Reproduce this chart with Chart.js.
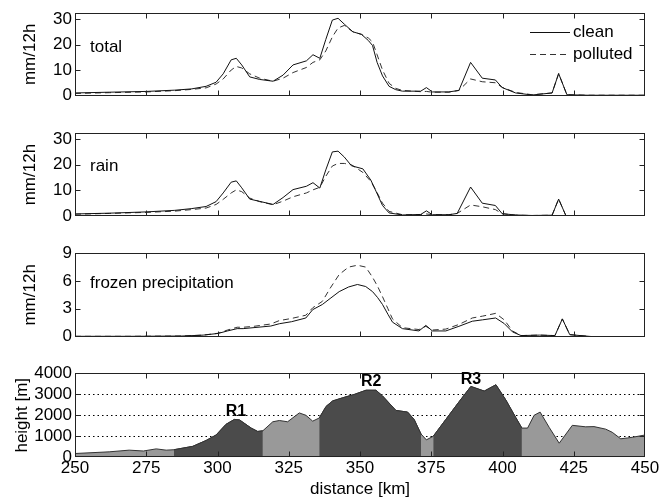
<!DOCTYPE html>
<html>
<head>
<meta charset="utf-8">
<script src="https://cdn.jsdelivr.net/npm/chart.js@4.4.1/dist/chart.umd.min.js"></script>
<style>
  body { margin: 0; background: #fff; }
  #wrap { position: relative; width: 662px; height: 500px; }
  canvas { position: absolute; left: 0; }
</style>
</head>
<body>
<div id="wrap">
  <canvas id="pTotal" width="662" height="120" style="top:0px"></canvas>
  <canvas id="pRain" width="662" height="120" style="top:120px"></canvas>
  <canvas id="pFrozen" width="662" height="120" style="top:240px"></canvas>
  <canvas id="pHeight" width="662" height="140" style="top:360px"></canvas>
</div>
<script>
// distance axis ticks
const xTicks = [250, 275, 300, 325, 350, 375, 400, 425, 450];

// total precipitation (mm/12h)
const kmTotal = [250, 262, 275, 285, 291, 296, 299.5, 302, 304.8, 306.6, 308.5, 311.3, 314.8, 319.5, 323, 326.5, 331.2, 333.5, 335.9, 338, 340.3, 342.3, 344.5, 347.5, 350.5, 353, 354.4, 356, 357.9, 360.2, 362.5, 364.9, 371.3, 373.3, 375.4, 381.2, 384.7, 388.8, 392.9, 397.5, 399.9, 404.6, 410.4, 417.4, 419.7, 422.6, 430, 450];
const totalClean = [1.0, 1.3, 1.6, 2.1, 2.6, 3.6, 5.2, 8.5, 14.0, 14.6, 12.0, 7.3, 6.3, 5.6, 8.0, 12.0, 13.6, 16.0, 14.6, 22.0, 29.6, 30.3, 28.0, 25.0, 24.0, 21.5, 19.6, 13.0, 7.7, 3.6, 2.3, 1.7, 1.7, 3.1, 1.4, 1.4, 2.0, 13.0, 6.8, 6.1, 3.1, 1.0, 0.2, 1.0, 8.6, 0.3, 0.1, 0.1];
const totalPolluted = [0.8, 1.1, 1.4, 1.9, 2.4, 3.0, 4.5, 6.5, 10.0, 11.4, 10.8, 8.5, 6.8, 5.6, 6.8, 9.0, 11.0, 13.0, 14.0, 17.5, 23.0, 26.5, 27.5, 25.0, 24.0, 22.5, 21.0, 16.0, 10.0, 4.8, 2.8, 2.0, 1.5, 1.6, 1.3, 1.3, 2.0, 6.5, 5.4, 5.0, 3.2, 1.2, 0.3, 1.0, 8.6, 0.3, 0.1, 0.1];

// rain (mm/12h)
const kmRain = [250, 262, 275, 285, 291, 296, 299.5, 302, 304.8, 306.6, 308.5, 311.3, 314.8, 319.5, 323, 326.5, 331.2, 333.5, 335.9, 338, 340.3, 342.3, 344.5, 347, 351, 353.8, 355.6, 357.9, 360.2, 364.9, 371.3, 373.3, 375.4, 381.2, 384.1, 388.8, 392.9, 397.5, 399.9, 404.6, 410.4, 417.4, 419.7, 422.3];
const rainClean = [0.8, 1.1, 1.6, 2.2, 2.9, 3.7, 5.6, 9.0, 13.2, 13.7, 11.0, 6.6, 5.7, 4.5, 7.2, 10.3, 11.6, 13.0, 10.9, 18.0, 25.0, 25.3, 23.0, 19.6, 18.4, 14.0, 9.7, 4.1, 1.2, 0.4, 0.6, 2.0, 0.5, 0.5, 1.0, 11.3, 5.0, 4.1, 0.9, 0.4, 0.2, 0.3, 6.6, 0.0];
const rainPolluted = [0.7, 1.0, 1.4, 1.9, 2.5, 3.1, 4.5, 6.5, 9.0, 10.2, 9.5, 7.0, 5.6, 4.4, 5.8, 7.5, 9.0, 10.2, 11.2, 15.5, 19.5, 20.5, 20.5, 20.0, 17.0, 13.5, 10.0, 5.0, 1.8, 0.5, 0.5, 0.8, 0.5, 0.5, 1.0, 4.3, 3.6, 2.5, 0.9, 0.3, 0.2, 0.3, 6.6, 0.0];

// frozen precipitation (mm/12h)
const kmFrozen = [250, 270, 287.5, 295, 300.2, 303.5, 306.9, 309, 312.8, 318.7, 321.7, 326, 331, 333.4, 336.8, 339.5, 342.7, 346, 349.1, 352, 354.4, 356.2, 357.9, 359.8, 361.4, 364.9, 370.7, 373.1, 375.4, 380.1, 384.7, 389.4, 393, 397.6, 400.6, 403.5, 406.5, 413, 418.4, 421, 423.6, 431];
const frozenClean = [0.02, 0.02, 0.05, 0.15, 0.33, 0.6, 0.85, 0.85, 0.96, 1.13, 1.38, 1.6, 2.0, 2.9, 3.46, 4.1, 4.85, 5.35, 5.62, 5.4, 4.85, 4.2, 3.46, 2.4, 1.55, 0.85, 0.6, 1.2, 0.6, 0.6, 1.1, 1.65, 1.8, 2.0, 1.4, 0.5, 0.1, 0.15, 0.1, 1.9, 0.2, 0.0];
const frozenPolluted = [0.02, 0.02, 0.05, 0.15, 0.35, 0.7, 1.0, 1.0, 1.1, 1.35, 1.72, 1.95, 2.3, 3.1, 3.8, 5.2, 6.7, 7.5, 7.7, 7.5, 6.4, 5.4, 4.3, 3.0, 1.9, 0.95, 0.75, 1.1, 0.7, 0.8, 1.3, 2.0, 2.2, 2.5, 1.8, 0.6, 0.1, 0.15, 0.1, 1.9, 0.2, 0.0];

// terrain height (m)
const kmHeight = [250, 262, 269, 274, 278.5, 282, 284.7, 291.3, 296, 299.5, 303, 305.9, 307.7, 311.8, 314.1, 315.9, 319.4, 321.7, 324.6, 328.7, 331, 333.4, 335.7, 338.1, 340.4, 343.9, 348, 352.1, 355.6, 357.9, 362.6, 366.7, 369, 371.4, 373.3, 375.7, 380.1, 384.8, 388.9, 393.6, 397.7, 401.2, 404.7, 406.8, 408.8, 411.1, 413.2, 416.4, 419.9, 424.5, 429.2, 432.1, 436.2, 438.5, 441.5, 443.8, 445.5, 450];
const height = [180, 260, 340, 300, 400, 340, 360, 520, 800, 1060, 1570, 1800, 1780, 1390, 1230, 1260, 1690, 1750, 1690, 2110, 2000, 1720, 1870, 2420, 2680, 2830, 2990, 3190, 3190, 2920, 2230, 2150, 1800, 1110, 830, 1000, 1800, 2650, 3370, 3150, 3450, 2720, 1880, 1390, 1390, 2000, 2150, 1420, 670, 1520, 1450, 1460, 1340, 1190, 880, 920, 950, 1060];

// ridges
const ridgeNames = ["R1", "R2", "R3"];
const ridgeStart = [284.7, 335.7, 375.7];
const ridgeEnd = [315.9, 371.4, 406.8];
const ridgeLabelKm = [306.5, 353.9, 388.9];
const ridgeLabelH = [2180, 3620, 3700];

const FONT = "'Liberation Sans', Arial, Helvetica, sans-serif";
const LEFT = 75;

function pts(xs, ys) {
  return xs.map((x, i) => ({ x, y: ys[i] }));
}

function lineSet(label, xs, ys, dashed) {
  return {
    label,
    data: pts(xs, ys),
    borderColor: dashed ? "#333" : "#111",
    borderWidth: 1,
    borderDash: dashed ? [6, 4] : [],
    pointRadius: 0,
    tension: 0,
    fill: false
  };
}

// frame with inward ticks, panel label, optional legend
const framePlugin = {
  id: "frame",
  afterDraw(chart, args, opts) {
    const { ctx, chartArea: a, scales } = chart;
    const l = Math.round(a.left) + 0.5, r = Math.round(a.right) - 0.5;
    const t = Math.round(a.top) + 0.5, b = Math.round(a.bottom) - 0.5;
    ctx.save();
    ctx.strokeStyle = "#222";
    ctx.lineWidth = 1;
    ctx.setLineDash([]);
    ctx.strokeRect(l, t, r - l, b - t);
    ctx.beginPath();
    xTicks.slice(1, -1).forEach(v => {
      const px = Math.round(scales.x.getPixelForValue(v)) + 0.5;
      ctx.moveTo(px, t); ctx.lineTo(px, t + 5);
      ctx.moveTo(px, b); ctx.lineTo(px, b - 5);
    });
    scales.y.ticks.forEach(tk => {
      if (tk.value <= scales.y.min || tk.value >= scales.y.max) return;
      const py = Math.round(scales.y.getPixelForValue(tk.value)) + 0.5;
      ctx.moveTo(l, py); ctx.lineTo(l + 5, py);
      ctx.moveTo(r, py); ctx.lineTo(r - 5, py);
    });
    ctx.stroke();

    ctx.fillStyle = "#000";
    ctx.font = "17px " + FONT;
    ctx.textBaseline = "middle";
    if (opts.label) ctx.fillText(opts.label, a.left + 15, a.top + opts.labelDy);

    if (opts.legend) {
      chart.data.datasets.forEach((ds, i) => {
        const y = Math.round(a.top + 19 + i * 22) + 0.5;
        ctx.strokeStyle = ds.borderColor;
        ctx.setLineDash(ds.borderDash);
        ctx.beginPath();
        ctx.moveTo(530, y); ctx.lineTo(570, y);
        ctx.stroke();
        ctx.fillText(ds.label, 573, y);
      });
    }

    if (opts.ridges) {
      ctx.font = "bold 16px " + FONT;
      ctx.textAlign = "center";
      ridgeNames.forEach((n, i) => {
        ctx.fillText(n, scales.x.getPixelForValue(ridgeLabelKm[i]), scales.y.getPixelForValue(ridgeLabelH[i]));
      });
    }
    ctx.restore();
  }
};

function makePanel(id, datasets, cfg) {
  return new Chart(document.getElementById(id), {
    type: "line",
    data: { datasets },
    plugins: [framePlugin],
    options: {
      responsive: false,
      animation: false,
      events: [],
      layout: { padding: { left: 0, right: 17, top: cfg.top, bottom: cfg.bottom } },
      plugins: {
        legend: { display: false },
        tooltip: { enabled: false },
        frame: cfg.frame
      },
      scales: {
        x: {
          type: "linear",
          min: 250,
          max: 450,
          display: cfg.showX,
          afterBuildTicks: s => { s.ticks = xTicks.map(v => ({ value: v })); },
          afterFit: s => { if (cfg.showX) s.height = cfg.xHeight; },
          grid: { display: false, drawTicks: false },
          border: { display: false },
          ticks: { color: "#000", font: { family: FONT, size: 17 }, padding: 1, maxRotation: 0, autoSkip: false },
          title: {
            display: cfg.showX,
            text: "distance [km]",
            color: "#000",
            font: { family: FONT, size: 17 },
            padding: { top: 0, bottom: 0 }
          }
        },
        y: {
          min: 0,
          max: cfg.yMax,
          afterFit: s => { s.width = LEFT; },
          ticks: {
            stepSize: cfg.yStep,
            includeBounds: false,
            autoSkip: false,
            callback: v => String(v),
            color: "#000",
            font: { family: FONT, size: 17 },
            padding: 3
          },
          grid: {
            display: !!cfg.dotted,
            drawTicks: false,
            color: c => (c.tick && c.tick.value > 0 && c.tick.value < cfg.yMax) ? "#000" : "rgba(0,0,0,0)",
            lineWidth: 1
          },
          border: { display: false, dash: [1.5, 3] },
          title: {
            display: true,
            text: cfg.yTitle,
            color: "#000",
            font: { family: FONT, size: 17 },
            padding: { top: cfg.titlePad, bottom: 0 }
          }
        }
      }
    }
  });
}

makePanel("pTotal", [
  lineSet("clean", kmTotal, totalClean, false),
  lineSet("polluted", kmTotal, totalPolluted, true)
], { top: 9, bottom: 24.5, yMax: 32.3, yStep: 10, yTitle: "mm/12h", titlePad: 20, showX: false,
     frame: { label: "total", labelDy: 34, legend: true } });

makePanel("pRain", [
  lineSet("clean", kmRain, rainClean, false),
  lineSet("polluted", kmRain, rainPolluted, true)
], { top: 10, bottom: 24, yMax: 32.3, yStep: 10, yTitle: "mm/12h", titlePad: 20, showX: false,
     frame: { label: "rain", labelDy: 33 } });

makePanel("pFrozen", [
  lineSet("clean", kmFrozen, frozenClean, false),
  lineSet("polluted", kmFrozen, frozenPolluted, true)
], { top: 10.3, bottom: 23.5, yMax: 9, yStep: 3, yTitle: "mm/12h", titlePad: 20, showX: false,
     frame: { label: "frozen precipitation", labelDy: 30 } });

// terrain: light profile underneath, ridge sections darker on top
const terrain = pts(kmHeight, height);
const heightSets = [{
  data: terrain,
  borderColor: "#333",
  borderWidth: 1,
  backgroundColor: "#999999",
  fill: "origin",
  pointRadius: 0,
  tension: 0,
  order: 2
}];
ridgeNames.forEach((n, i) => {
  heightSets.push({
    data: terrain.filter(p => p.x >= ridgeStart[i] && p.x <= ridgeEnd[i]),
    borderColor: "#333",
    borderWidth: 1,
    backgroundColor: "#4b4b4b",
    fill: "origin",
    pointRadius: 0,
    tension: 0,
    order: 1
  });
});

makePanel("pHeight", heightSets, {
  top: 10.7, bottom: 0, yMax: 4000, yStep: 1000, yTitle: "height [m]", titlePad: 12, showX: true, xHeight: 42.7,
  dotted: true, frame: { ridges: true }
});
</script>
</body>
</html>
